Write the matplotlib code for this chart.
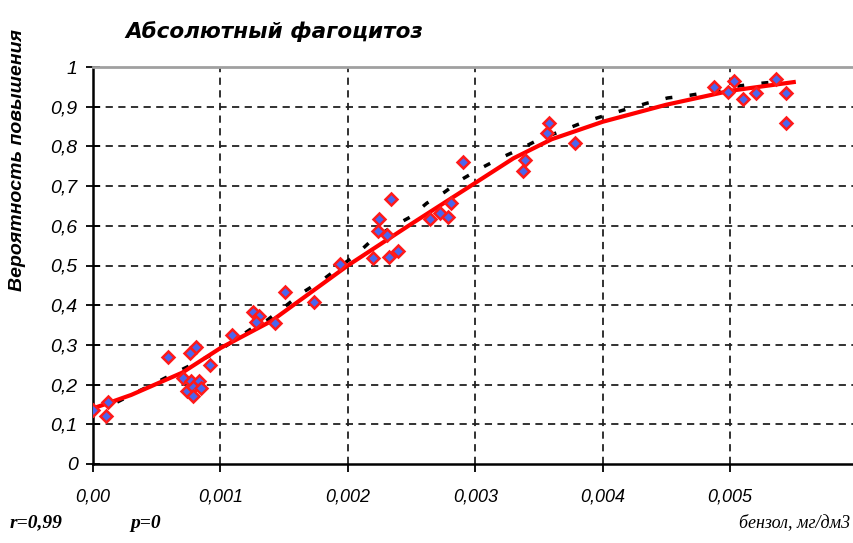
import matplotlib
matplotlib.use("Agg")
import matplotlib.pyplot as plt

# observed points (x = benzene mg/dm3, y = probability)
obs_x = [0.0, 0.000118, 0.000102, 0.000589, 0.000761, 0.000808, 0.000706, 0.000769,
         0.000832, 0.000738, 0.000785, 0.000848, 0.000785, 0.000918, 0.00109,
         0.001256, 0.001303, 0.00128, 0.001429, 0.001507, 0.001735, 0.001939,
         0.002198, 0.002323, 0.002394, 0.002237, 0.002308, 0.002245, 0.002339,
         0.002645, 0.002724, 0.002786, 0.00281, 0.002904, 0.003391, 0.003375,
         0.003564, 0.003579, 0.003783, 0.004874, 0.004984, 0.005031, 0.005102,
         0.005204, 0.005361, 0.00544, 0.00544]
obs_y = [0.136, 0.156, 0.121, 0.27, 0.28, 0.295, 0.217, 0.209,
         0.209, 0.184, 0.194, 0.191, 0.171, 0.249, 0.325,
         0.383, 0.373, 0.358, 0.355, 0.433, 0.408, 0.504,
         0.519, 0.521, 0.537, 0.587, 0.577, 0.617, 0.667,
         0.617, 0.632, 0.622, 0.657, 0.761, 0.766, 0.738,
         0.834, 0.859, 0.809, 0.95, 0.937, 0.965, 0.919,
         0.934, 0.97, 0.934, 0.859]

# fitted curve (red)
fit_x = [0.0, 0.0003, 0.0007, 0.001, 0.0014, 0.002, 0.0025, 0.003, 0.0033,
         0.0036, 0.004, 0.0045, 0.005, 0.0055]
fit_y = [0.14, 0.174, 0.23, 0.292, 0.36, 0.50, 0.605, 0.708, 0.77,
         0.818, 0.862, 0.905, 0.94, 0.962]

# model line (black dashes)
mod_x = [0.00019, 0.00033, 0.00049, 0.00064, 0.00082, 0.00096, 0.00109, 0.00123,
         0.00137, 0.00152, 0.00165, 0.0018, 0.00207, 0.00219, 0.00233, 0.00249,
         0.00262, 0.00276, 0.0029, 0.00305, 0.0032, 0.00335, 0.00351, 0.00368,
         0.00385, 0.00401, 0.00419, 0.00435, 0.00451, 0.00469, 0.00484, 0.00502,
         0.00518, 0.00534]
mod_y = [0.156, 0.179, 0.204, 0.229, 0.257, 0.28, 0.307, 0.338,
         0.363, 0.40, 0.433, 0.463, 0.529, 0.564, 0.594, 0.622,
         0.657, 0.685, 0.718, 0.746, 0.771, 0.793, 0.819, 0.839,
         0.861, 0.877, 0.894, 0.909, 0.922, 0.929, 0.937, 0.95,
         0.957, 0.962]

x_ticks = [0.0, 0.001, 0.002, 0.003, 0.004, 0.005]
x_labels = ["0,00", "0,001", "0,002", "0,003", "0,004", "0,005"]
y_ticks = [0, 0.1, 0.2, 0.3, 0.4, 0.5, 0.6, 0.7, 0.8, 0.9, 1.0]
y_labels = ["0", "0,1", "0,2", "0,3", "0,4", "0,5", "0,6", "0,7", "0,8", "0,9", "1"]

fig = plt.figure(figsize=(8.54, 5.43), dpi=100)
ax = fig.add_axes([93/854, 79/543, 760/854, 397/543])

ax.plot(mod_x, mod_y, color="black", lw=2.5, linestyle=(0, (2, 5)), zorder=2)
ax.plot(fit_x, fit_y, color="#ff0000", lw=3, zorder=3)
ax.plot(obs_x, obs_y, linestyle="none", marker="D", ms=6.5, mfc="#4a66ee",
        mec="#ff1a1a", mew=1.8, zorder=4)

ax.set_xlim(0, 0.005965)
ax.set_ylim(0, 1)
ax.set_xticks(x_ticks)
ax.set_xticklabels(x_labels, fontsize=13, style="italic", family="Liberation Sans")
ax.set_yticks(y_ticks)
ax.set_yticklabels(y_labels, fontsize=14, style="italic", family="Liberation Sans")
ax.tick_params(axis="y", direction="inout", length=10, width=1.3, pad=6)
ax.tick_params(axis="x", direction="out", length=6, width=1.3, pad=12)

ax.grid(True, color="#222222", lw=1.3, linestyle=(0, (4, 3)))
ax.xaxis.get_gridlines()[0].set_visible(False)
ax.yaxis.get_gridlines()[0].set_visible(False)
ax.yaxis.get_gridlines()[-1].set_visible(False)

ax.spines["right"].set_visible(False)
ax.spines["top"].set_color("#a0a0a0")
ax.spines["top"].set_linewidth(2)
ax.spines["left"].set_linewidth(1.8)
ax.spines["bottom"].set_linewidth(1.8)

fig.text(125/854, 1 - 32/543, "Абсолютный фагоцитоз", fontsize=15.5, weight="bold",
         style="italic", family="DejaVu Sans", va="center", ha="left")
fig.text(18/854, 1 - 160/543, "Вероятность повышения", fontsize=14, weight="bold",
         style="italic", family="Liberation Sans", rotation=90, va="center", ha="center")
fig.text(10/854, 1 - 523/543, "r=0,99", fontsize=14, weight="bold", style="italic",
         family="Liberation Serif", va="center", ha="left")
fig.text(130/854, 1 - 523/543, "p=0", fontsize=14, weight="bold", style="italic",
         family="Liberation Serif", va="center", ha="left")
fig.text(850/854, 1 - 523/543, "бензол, мг/дм3", fontsize=13, style="italic",
         family="Liberation Serif", va="center", ha="right")

fig.savefig("out.png", dpi=100)
